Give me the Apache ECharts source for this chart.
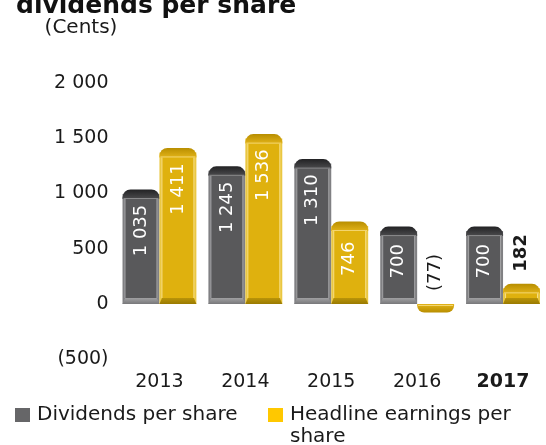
<!DOCTYPE html>
<html>
<head>
<meta charset="utf-8">
<script src="https://cdn.jsdelivr.net/npm/echarts@6/dist/echarts.min.js"></script>
<style>
  html, body { margin: 0; padding: 0; background: #ffffff; }
  #chart { width: 546px; height: 445px; }
</style>
</head>
<body>
<div id="chart"></div>
<script>
// Values in cents
const years = ['2013', '2014', '2015', '2016', '2017'];
const dividendsPerShare = [1035, 1245, 1310, 700, 700];
const headlineEarningsPerShare = [1411, 1536, 746, -77, 182];
const yTickValues = [-500, 0, 500, 1000, 1500, 2000];
const yTickLabels = ['(500)', '0', '500', '1 000', '1 500', '2 000'];
const currentYear = '2017';

const FONT = 'DejaVu Sans';
const INK = '#1a1a1a';

// Bar skins: body face, side edges, bottom bevel and rounded cap
const skins = {
  grey: {
    legend: '#666668',
    edge: '#808083', face: '#59595b', highlight: '#a3a3a5',
    bevel: ['#a0a0a2', '#78787a'],
    cap: ['#222224', '#4c4c4e'], capLine: '#8c8c8e'
  },
  gold: {
    legend: '#ffc800',
    edge: '#eac742', face: '#dfb10e', highlight: '#f6de86',
    bevel: ['#b99409', '#9a7a00'],
    cap: ['#b88e00', '#e2b319'], capLine: '#f3d670'
  }
};

function formatCents(v) {
  const s = Math.abs(v).toString().replace(/\B(?=(\d{3})+(?!\d))/g, ' ');
  return v < 0 ? '(' + s + ')' : s;
}

function vGrad(c0, c1) {
  return new echarts.graphic.LinearGradient(0, 0, 0, 1, [
    { offset: 0, color: c0 }, { offset: 1, color: c1 }
  ]);
}

function makeRenderer(skin, side) {
  return function (params, api) {
    const idx = api.value(0);
    const v = api.value(1);
    const zero = api.coord([idx, 0]);
    const tip = api.coord([idx, v]);
    const band = api.size([1, 0])[0];
    const w = band * 0.43;
    const cx = zero[0] + side * w / 2;
    const left = cx - w / 2;
    const right = cx + w / 2;
    const base = zero[1];
    const children = [];
    const label = formatCents(v);
    const year = years[idx];

    if (v >= 0) {
      const top = tip[1];
      const h = base - top;
      const capH = Math.min(9, h);
      const bev = 6;
      children.push({
        type: 'rect',
        shape: { x: left, y: top + capH / 2, width: w, height: h - capH / 2 },
        style: { fill: skin.edge }
      });
      if (h > capH + bev) {
        children.push({
          type: 'polygon',
          shape: { points: [[left + 2.5, top + capH], [right - 2.5, top + capH], [right - 2.5, base - bev], [left + 2.5, base - bev]] },
          style: { fill: skin.face }
        });
        children.push({
          type: 'line',
          shape: { x1: left + 2.5, y1: top + capH, x2: left + 2.5, y2: base - bev },
          style: { stroke: skin.highlight, lineWidth: 1 }
        });
        children.push({
          type: 'line',
          shape: { x1: right - 2.5, y1: top + capH, x2: right - 2.5, y2: base - bev },
          style: { stroke: skin.highlight, lineWidth: 1 }
        });
      }
      children.push({
        type: 'polygon',
        shape: { points: [[left + 2.5, base - bev], [right - 2.5, base - bev], [right, base], [left, base]] },
        style: { fill: vGrad(skin.bevel[0], skin.bevel[1]) }
      });
      children.push({
        type: 'rect',
        shape: { x: left, y: top, width: w, height: capH + 0.5, r: [8, 8, 0, 0] },
        style: { fill: vGrad(skin.cap[0], skin.cap[1]) }
      });
      children.push({
        type: 'line',
        shape: { x1: left + 1, y1: top + capH, x2: right - 1, y2: top + capH },
        style: { stroke: skin.capLine, lineWidth: 1 }
      });

      if (h > 60) {
        children.push({
          type: 'text',
          x: cx, y: top + Math.min(41, h / 2 - 4), rotation: Math.PI / 2,
          style: {
            text: label, fill: '#ffffff', font: '18px "' + FONT + '"',
            align: 'center', verticalAlign: 'middle'
          }
        });
      } else {
        children.push({
          type: 'text',
          x: cx, y: top - 12, rotation: Math.PI / 2,
          style: {
            text: label, fill: INK,
            font: (year === currentYear ? 'bold ' : '') + '18px "' + FONT + '"',
            align: 'left', verticalAlign: 'middle'
          }
        });
      }
    } else {
      const bottom = tip[1];
      const h = bottom - base;
      children.push({
        type: 'rect',
        shape: { x: left, y: base, width: w, height: h, r: [0, 0, 7, 7] },
        style: { fill: vGrad(skin.cap[1], skin.cap[0]) }
      });
      children.push({
        type: 'line',
        shape: { x1: left + 1, y1: base + 1.5, x2: right - 1, y2: base + 1.5 },
        style: { stroke: skin.capLine, lineWidth: 1 }
      });
      children.push({
        type: 'text',
        x: cx, y: base - 13, rotation: Math.PI / 2,
        style: {
          text: label, fill: INK,
          font: (year === currentYear ? 'bold ' : '') + '18px "' + FONT + '"',
          align: 'left', verticalAlign: 'middle'
        }
      });
    }
    return { type: 'group', children: children };
  };
}

const chart = echarts.init(document.getElementById('chart'), null, { renderer: 'canvas' });

chart.setOption({
  animation: false,
  backgroundColor: '#ffffff',
  title: {
    text: 'dividends per share',
    left: 16, top: -6.5, padding: 0,
    textStyle: { fontFamily: FONT, fontSize: 25, fontWeight: 'bold', color: '#111111', lineHeight: 25 }
  },
  grid: { left: 116.5, top: 82.8, width: 435.5, height: 276.5, containLabel: false },
  legend: [
    {
      data: ['Dividends per share'],
      left: 15, top: 405, padding: 0,
      icon: 'rect', itemWidth: 15, itemHeight: 14,
      textStyle: { fontFamily: FONT, fontSize: 20, color: INK, lineHeight: 14, padding: [0, 0, 0, 2] }
    },
    {
      data: ['Headline earnings per share'],
      left: 268, top: 382, padding: 0,
      icon: 'rect', itemWidth: 15, itemHeight: 14,
      // empty leading line keeps the first text line level with the swatch
      formatter: function (name) { return '\n' + name.replace(' per share', ' per\nshare'); },
      textStyle: { fontFamily: FONT, fontSize: 20, color: INK, lineHeight: 22, padding: [0, 0, 0, 2] }
    }
  ],
  xAxis: {
    type: 'category',
    data: years,
    axisLine: { show: false },
    axisTick: { show: false },
    splitLine: { show: false },
    axisLabel: {
      interval: 0,
      margin: 13,
      fontFamily: FONT, fontSize: 19, color: INK, lineHeight: 20,
      formatter: function (v) { return v === currentYear ? '{b|' + v + '}' : v; },
      rich: { b: { fontFamily: FONT, fontSize: 19, fontWeight: 'bold', color: INK, lineHeight: 20 } }
    }
  },
  yAxis: {
    type: 'value',
    min: -500, max: 2000, interval: 500,
    name: '(Cents)',
    nameLocation: 'end',
    nameGap: 55.3,
    nameTextStyle: {
      fontFamily: FONT, fontSize: 20, color: INK, lineHeight: 20,
      align: 'center', verticalAlign: 'middle', padding: [0, 71, 0, 0]
    },
    axisLine: { show: false },
    axisTick: { show: false },
    splitLine: { show: false },
    axisLabel: {
      margin: 8,
      fontFamily: FONT, fontSize: 19, color: INK,
      formatter: function (v) {
        const i = yTickValues.indexOf(v);
        return i >= 0 ? yTickLabels[i] : '';
      }
    }
  },
  series: [
    {
      name: 'Dividends per share',
      type: 'custom',
      clip: false,
      itemStyle: { color: skins.grey.legend },
      renderItem: makeRenderer(skins.grey, -1),
      data: dividendsPerShare.map(function (v, i) { return [i, v]; })
    },
    {
      name: 'Headline earnings per share',
      type: 'custom',
      clip: false,
      itemStyle: { color: skins.gold.legend },
      renderItem: makeRenderer(skins.gold, 1),
      data: headlineEarningsPerShare.map(function (v, i) { return [i, v]; })
    }
  ]
});
</script>
</body>
</html>
